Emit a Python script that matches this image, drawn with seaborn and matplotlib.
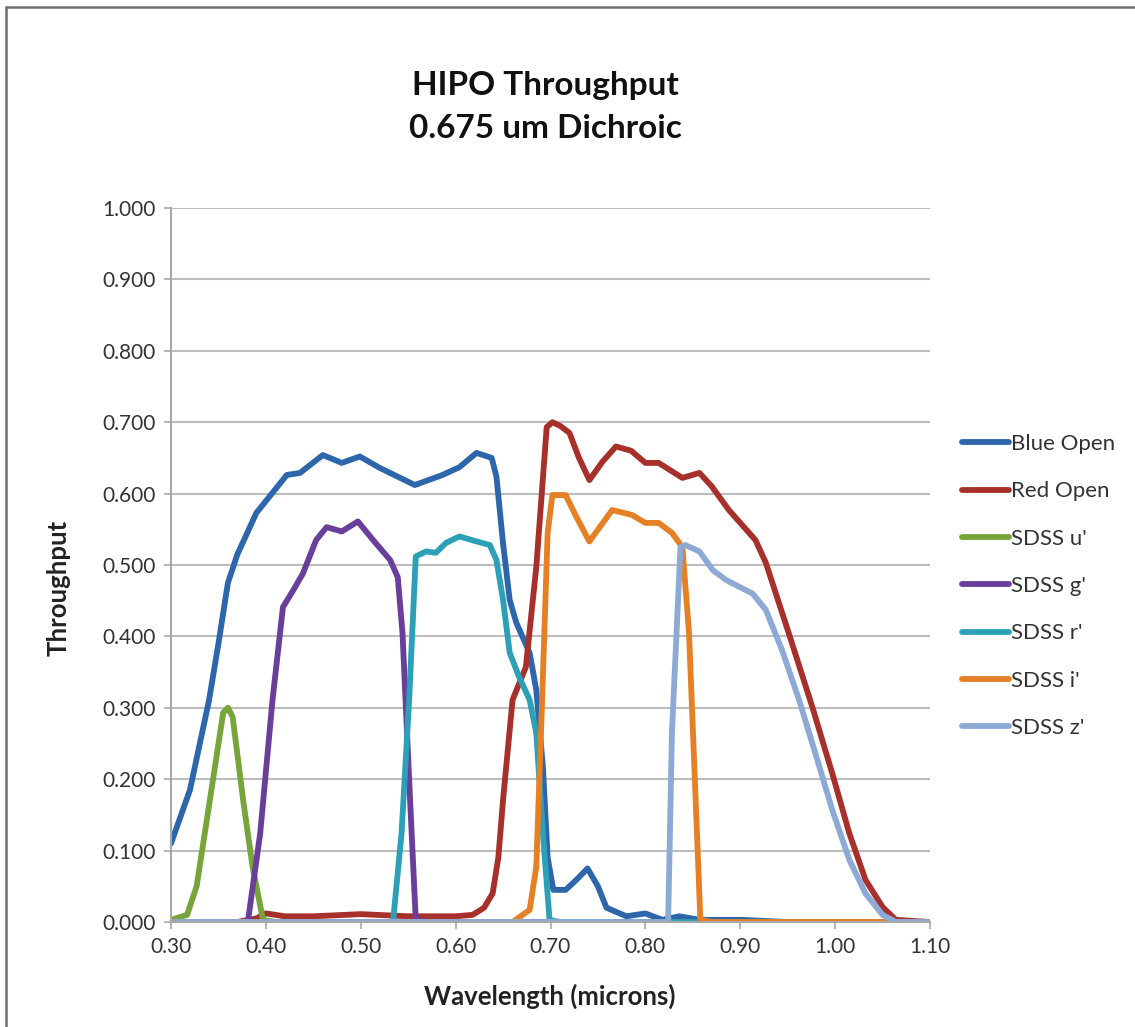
import numpy as np
import pandas as pd
import matplotlib
matplotlib.use("Agg")
import matplotlib.pyplot as plt
from matplotlib.lines import Line2D
import seaborn as sns

# ---------------- data ----------------
blue_w = [0.30, 0.32, 0.34, 0.35, 0.36, 0.37, 0.39, 0.422, 0.436, 0.46, 0.48, 0.499, 0.52,
          0.557, 0.586, 0.604, 0.622, 0.638, 0.643, 0.650, 0.657, 0.664, 0.678, 0.685, 0.692,
          0.697, 0.703, 0.716, 0.728, 0.739, 0.75, 0.759, 0.78, 0.80, 0.818, 0.836, 0.857,
          0.90, 0.95, 1.10]
blue_v = [0.110, 0.185, 0.310, 0.390, 0.475, 0.515, 0.573, 0.626, 0.629, 0.654, 0.643, 0.652, 0.636,
          0.612, 0.626, 0.637, 0.657, 0.650, 0.624, 0.530, 0.451, 0.419, 0.377, 0.325, 0.217,
          0.090, 0.045, 0.045, 0.060, 0.075, 0.050, 0.020, 0.008, 0.012, 0.003, 0.008, 0.003,
          0.003, 0.0, 0.0]

red_w = [0.30, 0.37, 0.39, 0.40, 0.42, 0.45, 0.50, 0.55, 0.60, 0.618, 0.63, 0.639, 0.645, 0.65,
         0.66, 0.674, 0.685, 0.696, 0.702, 0.71, 0.72, 0.73, 0.741, 0.755, 0.769, 0.785, 0.80,
         0.814, 0.839, 0.857, 0.87, 0.888, 0.916, 0.927, 0.951, 0.976, 0.997, 1.015, 1.032,
         1.05, 1.064, 1.10]
red_v = [0.0, 0.0, 0.005, 0.012, 0.008, 0.008, 0.011, 0.008, 0.008, 0.010, 0.020, 0.040, 0.090, 0.171,
         0.311, 0.357, 0.497, 0.693, 0.700, 0.695, 0.685, 0.650, 0.619, 0.645, 0.666, 0.660, 0.643,
         0.643, 0.622, 0.629, 0.610, 0.577, 0.535, 0.503, 0.405, 0.301, 0.208, 0.124, 0.059,
         0.021, 0.003, 0.0]

u_w = [0.30, 0.317, 0.327, 0.341, 0.355, 0.360, 0.365, 0.376, 0.386, 0.397, 0.41, 1.10]
u_v = [0.003, 0.010, 0.050, 0.171, 0.293, 0.300, 0.287, 0.171, 0.077, 0.003, 0.0, 0.0]

g_w = [0.30, 0.381, 0.394, 0.407, 0.418, 0.429, 0.439, 0.453, 0.464, 0.48, 0.497, 0.513,
       0.531, 0.539, 0.544, 0.552, 0.558, 0.57, 1.10]
g_v = [0.0, 0.0, 0.124, 0.311, 0.441, 0.465, 0.488, 0.535, 0.553, 0.547, 0.561, 0.535,
       0.507, 0.483, 0.405, 0.171, 0.003, 0.0, 0.0]

r_w = [0.30, 0.534, 0.543, 0.551, 0.558, 0.569, 0.579, 0.59, 0.604, 0.622, 0.636, 0.643,
       0.65, 0.657, 0.667, 0.678, 0.685, 0.692, 0.699, 0.71, 1.10]
r_v = [0.0, 0.0, 0.124, 0.311, 0.512, 0.519, 0.517, 0.531, 0.540, 0.533, 0.528, 0.507,
       0.451, 0.377, 0.343, 0.311, 0.265, 0.124, 0.003, 0.0, 0.0]

i_w = [0.30, 0.66, 0.678, 0.685, 0.69, 0.697, 0.702, 0.716, 0.727, 0.741, 0.765, 0.786,
       0.80, 0.814, 0.828, 0.839, 0.846, 0.853, 0.858, 0.87, 1.10]
i_v = [0.0, 0.0, 0.017, 0.077, 0.265, 0.545, 0.598, 0.598, 0.568, 0.533, 0.577, 0.570,
       0.559, 0.559, 0.545, 0.525, 0.405, 0.171, 0.003, 0.0, 0.0]

z_w = [0.30, 0.824, 0.828, 0.837, 0.842, 0.857, 0.871, 0.885, 0.913, 0.927, 0.944, 0.962,
       0.979, 0.997, 1.015, 1.032, 1.05, 1.064, 1.10]
z_v = [0.0, 0.0, 0.265, 0.525, 0.528, 0.519, 0.493, 0.479, 0.460, 0.437, 0.381, 0.311,
       0.237, 0.157, 0.087, 0.040, 0.010, 0.0, 0.0]

series_names = ["Blue Open", "Red Open", "SDSS u'", "SDSS g'", "SDSS r'", "SDSS i'", "SDSS z'"]
series_colors = ["#2E66AC", "#A8302B", "#77A43B", "#6A3E9B", "#2CA0B6", "#E68024", "#8DAAD6"]

x_ticks = [0.30, 0.40, 0.50, 0.60, 0.70, 0.80, 0.90, 1.00, 1.10]
y_ticks = [0.0, 0.1, 0.2, 0.3, 0.4, 0.5, 0.6, 0.7, 0.8, 0.9, 1.0]

# ---------------- build long-form table ----------------
all_w = [blue_w, red_w, u_w, g_w, r_w, i_w, z_w]
all_v = [blue_v, red_v, u_v, g_v, r_v, i_v, z_v]
frames = []
for name, w, v in zip(series_names, all_w, all_v):
    frames.append(pd.DataFrame({"Wavelength": w, "Throughput": v, "Series": name}))
df = pd.concat(frames, ignore_index=True)

# ---------------- plot ----------------
sns.set_theme(style="white")
plt.rcParams["font.family"] = ["Lato", "DejaVu Sans"]

fig = plt.figure(figsize=(11.35, 10.27), dpi=100)
ax = fig.add_axes([171 / 1135, 1 - 922 / 1027, (930 - 171) / 1135, (922 - 208) / 1027])

LW = 4.2
sns.lineplot(data=df, x="Wavelength", y="Throughput", hue="Series",
             hue_order=series_names, palette=series_colors, estimator=None,
             sort=False, linewidth=LW, ax=ax, legend=True)
for ln in ax.get_lines():
    ln.set_solid_joinstyle("round")
    ln.set_solid_capstyle("round")

ax.set_xlim(0.30, 1.10)
ax.set_ylim(0.0, 1.0)
ax.set_xticks(x_ticks)
ax.set_xticklabels([f"{t:.2f}" for t in x_ticks])
ax.set_yticks(y_ticks)
ax.set_yticklabels([f"{t:.3f}" for t in y_ticks])
ax.yaxis.grid(True, color="#BDBDBD", linewidth=1.5)
ax.set_axisbelow(True)
for s in ["top", "right"]:
    ax.spines[s].set_visible(False)
ax.spines["left"].set_color("#A8A8A8")
ax.spines["left"].set_linewidth(1.5)
ax.spines["bottom"].set_color("#A8A8A8")
ax.spines["bottom"].set_linewidth(1.5)
ax.tick_params(axis="both", which="major", direction="out", length=5, width=1.2,
               color="#A8A8A8", labelsize=15, labelcolor="#333333", pad=6,
               bottom=True, left=True)

ax.set_xlabel("Wavelength (microns)", fontsize=18.5, fontweight="bold", color="#222222")
ax.set_ylabel("Throughput", fontsize=18.5, fontweight="bold", color="#222222")
ax.xaxis.set_label_coords((550 - 171) / 759, (922 - 984) / 714)
ax.yaxis.set_label_coords((71 - 171) / 759, (922 - 588) / 714)

fig.text(545 / 1135, 1 - 85 / 1027, "HIPO Throughput", ha="center", va="center",
         fontsize=24, fontweight="bold", color="#111111")
fig.text(545 / 1135, 1 - 128 / 1027, "0.675 um Dichroic", ha="center", va="center",
         fontsize=24, fontweight="bold", color="#111111")

handles, labels = ax.get_legend_handles_labels()
ax.legend(handles, labels, loc="center left", bbox_to_anchor=(962 / 1135, 1 - 586 / 1027),
          bbox_transform=fig.transFigure, frameon=False, fontsize=16,
          handlelength=2.1, handletextpad=0.1, labelspacing=1.23, borderpad=0,
          borderaxespad=0, labelcolor="#333333")
for lh in ax.get_legend().get_lines():
    lh.set_linewidth(LW)

# outer frame (top and left edges visible in the reference)
fig.add_artist(Line2D([6 / 1135, 6 / 1135], [0, 1 - 7 / 1027], transform=fig.transFigure,
                      color="#6E6E6E", linewidth=1.8))
fig.add_artist(Line2D([6 / 1135, 1.0], [1 - 7 / 1027, 1 - 7 / 1027], transform=fig.transFigure,
                      color="#6E6E6E", linewidth=1.8))

fig.savefig("out.png", dpi=100, facecolor="white")
